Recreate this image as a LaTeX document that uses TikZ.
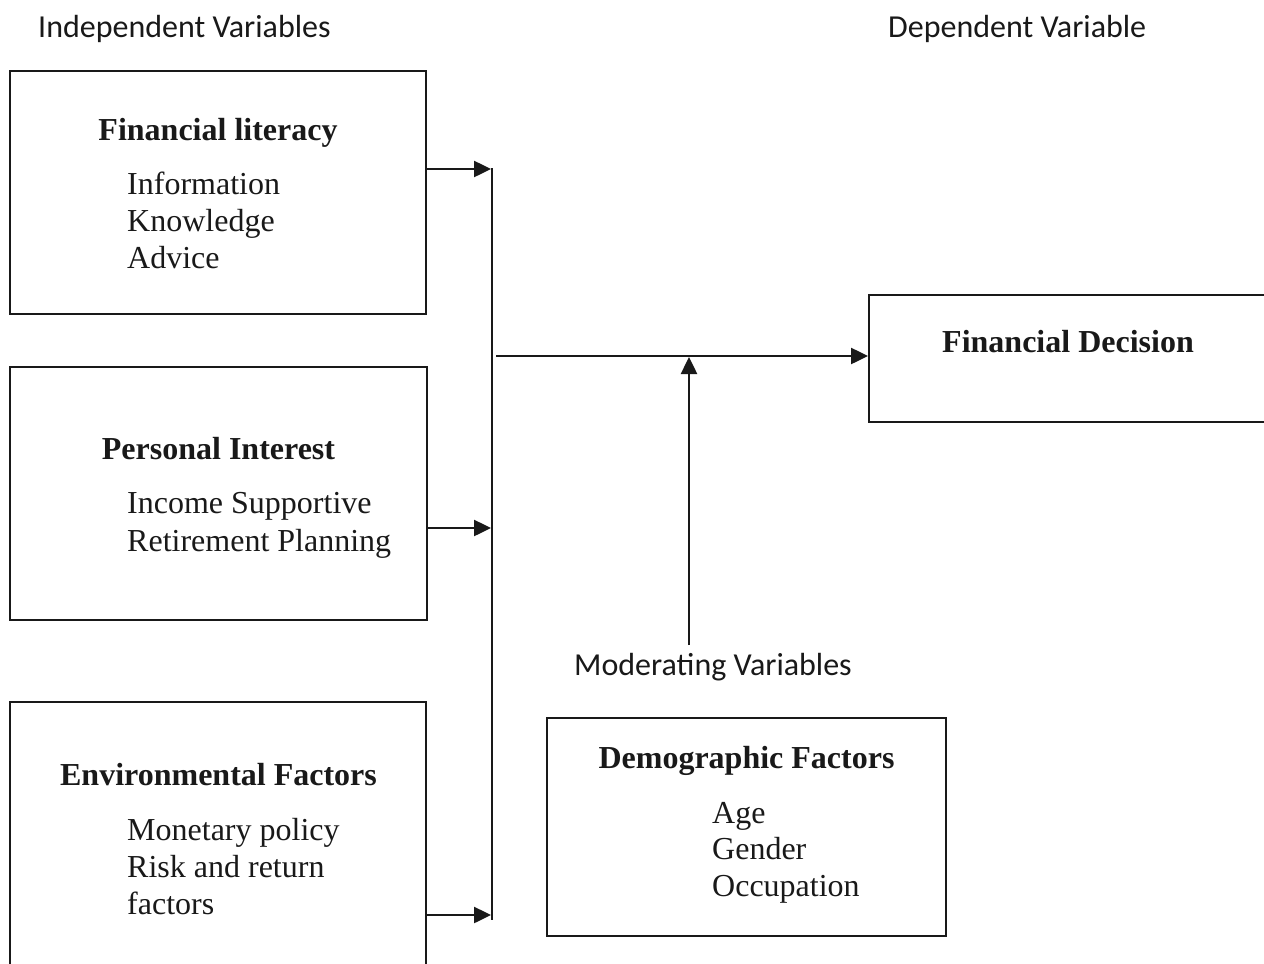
\documentclass[tikz,border=0pt]{standalone}
\usepackage{fontspec}
\setmainfont{Liberation Serif}
\newfontfamily\calib{Carlito}
\usetikzlibrary{arrows.meta}
\tikzset{
  box/.style={draw=black!90, line width=2pt, minimum width=#1, inner sep=0pt},
  title/.style={anchor=base, font=\fontsize{32}{36}\selectfont\bfseries, text=black!90},
  item/.style={anchor=base west, font=\fontsize{32}{37}\selectfont, text=black!90, inner sep=0pt},
  lab/.style={anchor=base west, font=\calib\fontsize{32}{36}\selectfont, text=black!90, inner sep=0pt},
  arr/.style={line width=2.5pt, draw=black!90, -{Triangle[length=17pt,width=16pt]}},
  bus/.style={line width=2pt, draw=black!90}
}
\begin{document}
\begin{tikzpicture}[x=1pt,y=-1pt]
\clip (0,0) rectangle (1264,964);
\fill[white] (0,0) rectangle (1264,964);
% boxes
\node[box=416pt, minimum height=243pt] (fl) at (218,192.5) {};
\node[box=417pt, minimum height=253pt] (pi) at (218.5,493.5) {};
\node[box=416pt, minimum height=300pt] (ef) at (218,852) {};
\node[box=430pt, minimum height=127pt] (fd) at (1084,358.5) {};
\node[box=399pt, minimum height=218pt] (dg) at (746.5,827) {};
% headings
\node[lab] (iv) at (38,37) {Independent Variables};
\node[lab] (dv) at (888,37.5) {Dependent Variable};
\node[lab] (mv) at (574,675) {Moderating Variables};
% titles
\node[title] (flt) at (218,140) {Financial literacy};
\node[item] (fl1) at (127,194) {Information};
\node[item] (fl2) at (127,231) {Knowledge};
\node[item] (fl3) at (127,268) {Advice};
\node[title] (pit) at (218.5,459) {Personal Interest};
\node[item] (pi1) at (127,513) {Income Supportive};
\node[item] (pi2) at (127,551) {Retirement Planning};
\node[title] (eft) at (218.5,785) {Environmental Factors};
\node[item] (ef1) at (127,840) {Monetary policy};
\node[item] (ef2) at (127,877) {Risk and return};
\node[item] (ef3) at (127,914) {factors};
\node[title] (fdt) at (1068,352) {Financial Decision};
\node[title] (dgt) at (746.5,768) {Demographic Factors};
\node[item] (dg1) at (712,823) {Age};
\node[item] (dg2) at (712,859) {Gender};
\node[item] (dg3) at (712,896) {Occupation};
% connectors
\coordinate (btop) at (492,168);
\coordinate (bbot) at (492,920);
\coordinate (b1) at (491,169);
\coordinate (b2) at (491,528);
\coordinate (b3) at (491,915);
\coordinate (ms) at (496,356);
\coordinate (mj) at (689,357);
\coordinate (mb) at (689,645);
\draw[bus] (btop) -- (bbot);
\draw[arr] (fl.east |- b1) -- (b1);
\draw[arr] (pi.east |- b2) -- (b2);
\draw[arr] (ef.east |- b3) -- (b3);
\draw[arr] (ms) -- (fd.west |- ms);
\draw[arr] (mb) -- (mj);
\end{tikzpicture}
\end{document}
